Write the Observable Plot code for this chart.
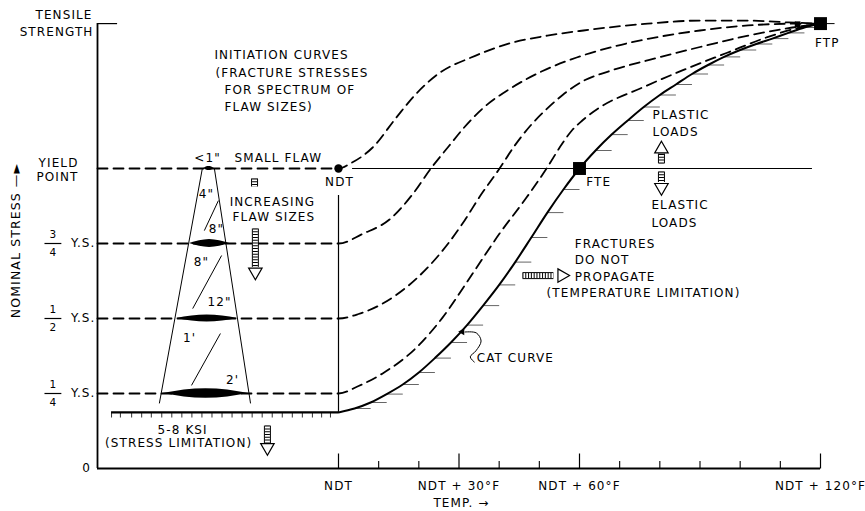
<!DOCTYPE html>
<html><head><meta charset="utf-8">
<script src="https://cdn.jsdelivr.net/npm/d3@7"></script>
<script src="https://cdn.jsdelivr.net/npm/@observablehq/plot@0.6"></script>
<style>body{margin:0;background:#fff} svg{display:block}</style>
</head><body><div id="chart"></div>
<script>
// ---- data (x = temperature above NDT in °F, y = nominal stress in units of yield strength) ----
const xTicksMajor = [0, 30, 60, 120];
const xTickLabels = ["NDT", "NDT + 30°F", "NDT + 60°F", "NDT + 120°F"];
const xTicksMinor = [10, 20, 40, 50, 70, 80, 90, 100, 110];

const tensileV = 1.483;
const shelfV = 0.187;          // 5-8 KSI lower shelf
const shelfStartT = -56.5;
const shelfHatchT = [-56.5,-54.3,-51.5,-49,-46.6,-44,-41.5,-39,-36.5,-34,-31.5,-29,-26.5,-24,-21.5,-19,-16.5,-14,-11.5,-9,-6.5,-4.2,-2];

// CAT curve (solid)
const catT = [0,4,8,12,16,20,24,28,32,36,40,44,48,52,56,60,64,68,72,76,80,84,88,92,96,100,104,108,112,116,120];
const catV = [0.187,0.2,0.22,0.248,0.28,0.32,0.368,0.42,0.478,0.543,0.612,0.688,0.77,0.853,0.93,1.0,1.06,1.113,1.16,1.205,1.245,1.28,1.315,1.345,1.372,1.395,1.415,1.433,1.452,1.47,1.483];

// Initiation curves (dashed) for flaw sizes
const initA_T = [-60,0,3,8.5,14.4,19.4,25,33,42.6,52,61,77,90,102,112,120];
const initA_V = [1,1,1.017,1.07,1.17,1.25,1.317,1.37,1.417,1.443,1.46,1.483,1.493,1.493,1.487,1.483];
const initB_T = [-60,0,6,12.7,18.5,23,27.5,31.5,36.3,42.6,50.8,59.3,67.5,77.4,90,102,115,120];
const initB_V = [0.75,0.75,0.782,0.83,0.915,1.0,1.075,1.14,1.205,1.265,1.325,1.37,1.403,1.433,1.46,1.477,1.483,1.483];
const initC_T = [-60,0,5,11,19.4,27.6,31.4,35.1,40.1,43.8,47.6,51.8,55.8,60.7,67.5,77.4,90,102,113,120];
const initC_V = [0.5,0.5,0.515,0.55,0.633,0.755,0.827,0.905,1.0,1.075,1.14,1.198,1.245,1.29,1.325,1.362,1.405,1.443,1.47,1.483];
const initD_T = [-60,0,5,11,19.4,25.9,33.4,40.1,46.8,51.8,55.8,58,60.7,65,75.7,85.6,96.6,106.6,114.8,120];
const initD_V = [0.25,0.25,0.275,0.317,0.403,0.503,0.65,0.783,0.903,1.0,1.085,1.125,1.16,1.203,1.27,1.327,1.385,1.437,1.47,1.483];

// flaw lenses
const flawV = [1, 0.75, 0.5, 0.25];
const flawT0 = [-33.6, -37.1, -40.3, -43.8];
const flawT1 = [-30.9, -27.1, -25.1, -22.2];
const flawHalf = [0.007, 0.013, 0.012, 0.016];

// y labels
const yFracLevels = [0.75, 0.5, 0.25];
const yFracNum = ["3", "1", "1"];
const yFracDen = ["4", "2", "4"];

// ---- build tables ----
const rows = (T, V, id) => T.map((t, i) => ({T: t, V: V[i], id}));
const catRows = rows(catT, catV, "cat");
const initRows = [
  ...rows(initA_T, initA_V, "A"), ...rows(initB_T, initB_V, "B"),
  ...rows(initC_T, initC_V, "C"), ...rows(initD_T, initD_V, "D")
];
const fr = [0, 0.125, 0.25, 0.375, 0.5, 0.625, 0.75, 0.875, 1];
const lensRows = flawV.flatMap((v, i) => fr.map(f => ({
  id: i, T: flawT0[i] + f * (flawT1[i] - flawT0[i]),
  lo: v - flawHalf[i] * Math.sin(Math.PI * f), hi: v + flawHalf[i] * Math.sin(Math.PI * f)
})));

// annotations
const textStart = [
  ["INITIATION CURVES", -30.9, 1.377],
  ["(FRACTURE STRESSES", -30.6, 1.317],
  ["FOR SPECTRUM OF", -28.4, 1.26],
  ["FLAW SIZES)", -28.4, 1.203],
  ["SMALL FLAW", -25.9, 1.033],
  ["INCREASING", -27.1, 0.887],
  ["FLAW SIZES", -26.4, 0.837],
  ["FTE", 61.7, 0.953],
  ["PLASTIC", 78.2, 1.177],
  ["LOADS", 78.2, 1.12],
  ["ELASTIC", 77.9, 0.877],
  ["LOADS", 77.9, 0.817],
  ["FRACTURES", 58.8, 0.747],
  ["DO NOT", 58.8, 0.693],
  ["PROPAGATE", 58.8, 0.637],
  ["(TEMPERATURE LIMITATION)", 51.8, 0.583],
  ["CAT CURVE", 34.4, 0.367]
].map(([t, T, V]) => ({t, T, V}));
const textMid = [
  ["<1\"", -32.6, 1.033],
  ["NDT", 0.25, 0.953],
  ["5-8 KSI", -38.8, 0.127],
  ["(STRESS LIMITATION)", -39.8, 0.083],
  ["FTP", 121.7, 1.417],
  ["TEMP. →", 30.6, -0.117],
  ["4\"", -32.9, 0.913],
  ["8\"", -30.4, 0.797],
  ["8\"", -34.1, 0.687],
  ["12\"", -29.6, 0.553],
  ["1'", -37.1, 0.433],
  ["2'", -26.4, 0.293]
].map(([t, T, V]) => ({t, T, V}));
const slashes = [
  {x1: -29.9, y1: 0.893, x2: -33.4, y2: 0.793},
  {x1: -29.1, y1: 0.71, x2: -36.3, y2: 0.533},
  {x1: -29.4, y1: 0.45, x2: -36.6, y2: 0.277}
];
const coneLines = [
  {x1: -33.9, y1: 1.0, x2: -44.6, y2: 0.217},
  {x1: -30.9, y1: 1.0, x2: -21.9, y2: 0.217}
];
const arrows = [
  {x1: -20.7, y1: 0.80, x2: -20.7, y2: 0.672, hx: -20.7, hy: 0.655, r: 180},
  {x1: -17.7, y1: 0.143, x2: -17.7, y2: 0.085, hx: -17.7, hy: 0.07, r: 180},
  {x1: 45.8, y1: 0.643, x2: 53.5, y2: 0.643, hx: 55.6, hy: 0.643, r: 90},
  {x1: 80.4, y1: 1.017, x2: 80.4, y2: 1.05, hx: 80.4, hy: 1.065, r: 0},
  {x1: 80.4, y1: 0.99, x2: 80.4, y2: 0.955, hx: 80.4, hy: 0.937, r: 180}
];
const hatchBox = [{x1: -20.9, y1: 0.967, x2: -20.9, y2: 0.94}];
const squiggle = [
  {T: 31.5, V: 0.455}, {T: 34.3, V: 0.452}, {T: 35.5, V: 0.425},
  {T: 34.2, V: 0.392}, {T: 32.8, V: 0.372}, {T: 33.8, V: 0.355}
];

const FONT = "'DejaVu Sans', sans-serif";
const fs = 12;

const chart = Plot.plot({
  width: 865, height: 511,
  marginLeft: 97, marginRight: 45, marginTop: 18, marginBottom: 43,
  x: {domain: [-60, 120], axis: null},
  y: {domain: [0, 1.5], axis: null},
  style: {fontFamily: FONT, fontSize: "12px", letterSpacing: "1.1px", background: "white", color: "black", overflow: "visible"},
  marks: [
    // hatching
    Plot.link(shelfHatchT, {x1: d => d, x2: d => d, y1: shelfV, y2: shelfV - 0.017, stroke: "#333", strokeWidth: 1}),
    Plot.link(catRows.slice(1, -1), {x1: "T", y1: "V", x2: d => d.T + 4, y2: "V", stroke: "#555", strokeWidth: 0.9}),
    // axes
    Plot.ruleX([-60], {y1: 0, y2: tensileV, stroke: "black", strokeWidth: 1.8}),
    Plot.ruleY([0], {x1: -60, x2: 120, stroke: "black", strokeWidth: 1.8}),
    Plot.ruleY([tensileV], {x1: -60, x2: -55, stroke: "black", strokeWidth: 1.2}),
    Plot.link(xTicksMajor, {x1: d => d, x2: d => d, y1: 0, y2: 0.05, stroke: "black", strokeWidth: 1.2}),
    Plot.link(xTicksMinor, {x1: d => d, x2: d => d, y1: 0, y2: 0.025, stroke: "black", strokeWidth: 1.1}),
    Plot.text(xTicksMajor, {x: d => d, y: 0, dy: 18, text: (d, i) => xTickLabels[i], fontSize: 12, textAnchor: "middle"}),
    // yield line, NDT vertical, shelf
    Plot.ruleY([1], {x1: 3.5, x2: 118, stroke: "black", strokeWidth: 1}),
    Plot.ruleX([0], {y1: shelfV, y2: 0.91, stroke: "black", strokeWidth: 1.2}),
    Plot.ruleY([shelfV], {x1: shelfStartT, x2: 0, stroke: "black", strokeWidth: 2.2}),
    // initiation curves
    Plot.line(initRows, {x: "T", y: "V", z: "id", stroke: "black", strokeWidth: 1.8, strokeDasharray: "10,6", curve: "monotone-x"}),
    // CAT curve
    Plot.line(catRows, {x: "T", y: "V", stroke: "black", strokeWidth: 2, curve: "monotone-x"}),
    // flaw cone
    Plot.link(coneLines, {x1: "x1", y1: "y1", x2: "x2", y2: "y2", stroke: "black", strokeWidth: 1}),
    Plot.link(slashes, {x1: "x1", y1: "y1", x2: "x2", y2: "y2", stroke: "black", strokeWidth: 1}),
    Plot.areaY(lensRows, {x: "T", y1: "lo", y2: "hi", z: "id", fill: "black"}),
    // hatched arrows
    Plot.link([...arrows, ...hatchBox], {x1: "x1", y1: "y1", x2: "x2", y2: "y2", stroke: "black", strokeWidth: 7}),
    Plot.link([...arrows, ...hatchBox], {x1: "x1", y1: "y1", x2: "x2", y2: "y2", stroke: "white", strokeWidth: 5}),
    Plot.link([...arrows, ...hatchBox], {x1: "x1", y1: "y1", x2: "x2", y2: "y2", stroke: "black", strokeWidth: 5, strokeDasharray: "1,1.8"}),
    Plot.dot(arrows, {x: "hx", y: "hy", symbol: "triangle", r: 5, rotate: "r", fill: "white", stroke: "black", strokeWidth: 1.2}),
    // CAT label leader
    Plot.line(squiggle, {x: "T", y: "V", stroke: "black", strokeWidth: 1, curve: "catmull-rom"}),
    Plot.dot([{T: 30.8, V: 0.456}], {x: "T", y: "V", symbol: "triangle", r: 2.6, rotate: -90, fill: "black"}),
    // points
    Plot.link([{a: 120, b: 123.5}], {x1: "a", x2: "b", y1: tensileV, y2: tensileV, stroke: "black", strokeWidth: 1}),
    Plot.dot([{T: 0, V: 1}], {x: "T", y: "V", r: 4.2, fill: "black"}),
    Plot.dot([{T: 60, V: 1}, {T: 120, V: tensileV}], {x: "T", y: "V", symbol: "square", r: 7.3, fill: "black"}),
    Plot.dot([{T: 114.3, V: 1.481}], {x: "T", y: "V", symbol: "square", r: 3.2, fill: "black"}),
    // annotations
    Plot.text(textStart, {x: "T", y: "V", text: "t", textAnchor: "start", fontSize: fs}),
    Plot.text(textMid, {x: "T", y: "V", text: "t", textAnchor: "middle", fontSize: fs}),
    // y labels
    Plot.text(["TENSILE"], {x: -60, y: 1.51, text: d => d, textAnchor: "end", dx: -5, fontSize: fs}),
    Plot.text(["STRENGTH"], {x: -60, y: 1.453, text: d => d, textAnchor: "end", dx: -4, fontSize: fs}),
    Plot.text(["YIELD"], {x: -60, y: 1.017, text: d => d, textAnchor: "end", dx: -19, fontSize: fs}),
    Plot.text(["POINT"], {x: -60, y: 0.97, text: d => d, textAnchor: "end", dx: -19, fontSize: fs}),
    Plot.text(yFracLevels, {x: -60, y: d => d, text: () => "Y.S.", textAnchor: "end", dx: -2, fontSize: fs}),
    Plot.text(yFracLevels, {x: -60, y: d => d + 0.031, text: (d, i) => yFracNum[i], textAnchor: "middle", dx: -44, fontSize: 10.5}),
    Plot.text(yFracLevels, {x: -60, y: d => d - 0.031, text: (d, i) => yFracDen[i], textAnchor: "middle", dx: -44, fontSize: 10.5}),
    Plot.link(yFracLevels, {x1: -73.2, x2: -69, y1: d => d, y2: d => d, stroke: "black", strokeWidth: 1.2}),
    Plot.text(["0"], {x: -60, y: 0, text: d => d, textAnchor: "middle", dx: -11, fontSize: fs}),
    Plot.text(["NOMINAL STRESS —►"], {x: -80.2, y: 0.76, text: d => d, rotate: -90, textAnchor: "middle", fontSize: 12.5, letterSpacing: 0.8})
  ]
});
document.getElementById("chart").appendChild(chart);
</script>
</body></html>
